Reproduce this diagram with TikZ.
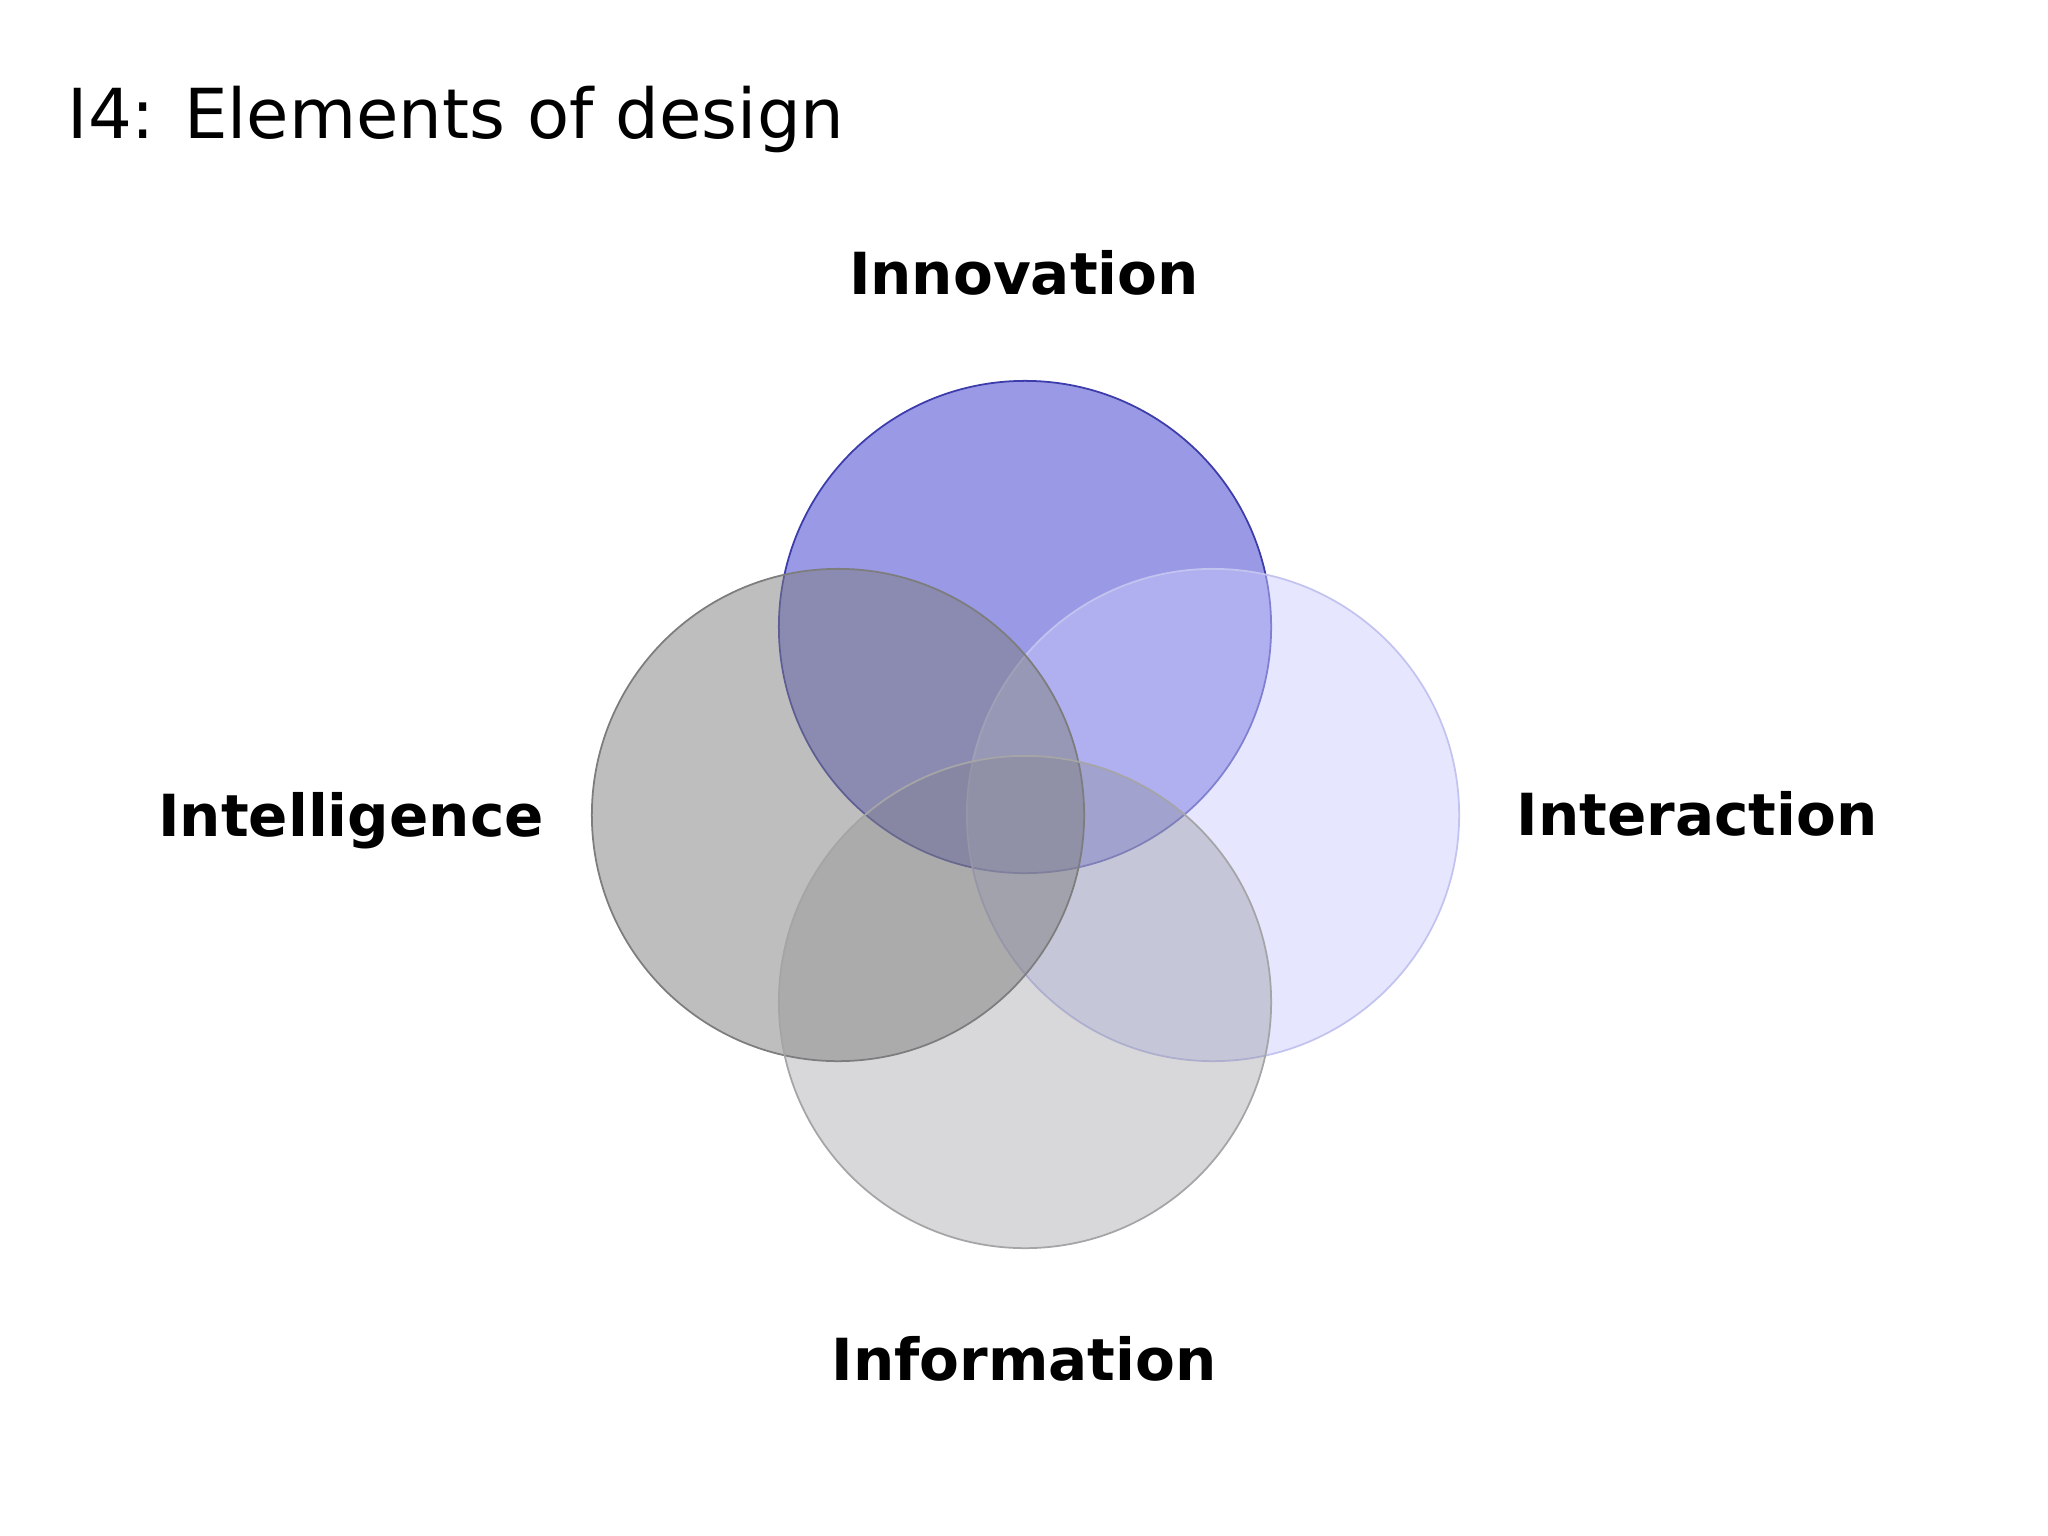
\documentclass[tikz,border=0pt]{standalone}
\usepackage{fontspec}
\setmainfont{DejaVu Sans}
\usepackage{xcolor}
\usepackage{tikz}
\definecolor{innov_fill}{RGB}{51,51,204}
\definecolor{innov_line}{RGB}{60,60,170}
\definecolor{intel_fill}{RGB}{128,128,128}
\definecolor{intel_line}{RGB}{125,125,125}
\definecolor{inter_fill}{RGB}{203,203,253}
\definecolor{inter_line}{RGB}{195,195,240}
\definecolor{info_fill}{RGB}{128,128,134}
\definecolor{info_line}{RGB}{165,165,168}
\tikzset{
    venn/.style = {circle, minimum size=4.92cm, inner sep=0pt, line width=0.5pt},
    innov_set/.style = {venn, draw=innov_line, fill=innov_fill, fill opacity=0.5},
    intel_set/.style = {venn, draw=intel_line, fill=intel_fill, fill opacity=0.51},
    inter_set/.style = {venn, draw=inter_line, fill=inter_fill, fill opacity=0.48},
    info_set/.style = {venn, draw=info_line, fill=info_fill, fill opacity=0.31},
    label_node/.style = {anchor=base, inner sep=0pt, font=\fontsize{16.5}{19}\selectfont\bfseries},
    title_node/.style = {anchor=base west, inner sep=0pt, font=\fontsize{19.6}{23}\selectfont}
}

\begin{document}
\begin{tikzpicture}[x=0.01cm, y=-0.01cm]
    \useasboundingbox (0,0) rectangle (2048,1536);
    \node [title_node] (heading) at (67,138) {I4: Elements of design};

    % the four sets
    \node [innov_set] (innovation) at (1025,627) {};
    \node [inter_set] (interaction) at (1213,815) {};
    \node [intel_set] (intelligence) at (838,815) {};
    \node [info_set] (information) at (1025,1002) {};

    \node [label_node] (innovation_lbl) at (1024,294) {Innovation};
    \node [label_node] (intelligence_lbl) at (351,836) {Intelligence};
    \node [label_node] (interaction_lbl) at (1697,835) {Interaction};
    \node [label_node] (information_lbl) at (1024,1380) {Information};
\end{tikzpicture}
\end{document}
